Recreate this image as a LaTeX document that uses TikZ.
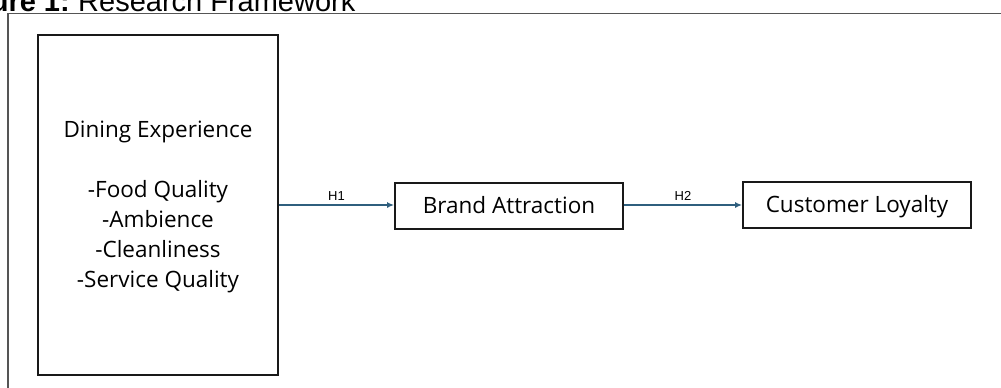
\documentclass[tikz,border=0pt]{standalone}
\usepackage{fontspec}
\setmainfont{Open Sans}
\newfontfamily\titlefont{Liberation Sans}
\usetikzlibrary{arrows.meta}
\definecolor{arrowblue}{HTML}{2F5F7E}
\definecolor{framegray}{HTML}{555555}
\begin{document}
\begin{tikzpicture}[x=1pt,y=-1pt,
  boxfont/.style={font=\fontsize{22.5}{30}\selectfont},
  boxstyle/.style={draw=black!90,line width=1.8pt,inner sep=0pt,boxfont,text height=17pt,text depth=3pt},
  conn/.style={draw=arrowblue,line width=1.6pt,-{Latex[length=7pt,width=6pt]}},
  hlabel/.style={font=\titlefont\fontsize{13}{15}\selectfont,above,inner sep=4pt}]
\useasboundingbox (0,0) rectangle (1001,388);
\clip (0,0) rectangle (1001,388);
% title (cut off at top)
\node[anchor=base east,inner sep=0pt,font=\titlefont\bfseries\fontsize{29}{32}\selectfont] (tfig) at (70,11) {Figure 1:};
\node[anchor=base west,inner sep=0pt,font=\titlefont\fontsize{29}{32}\selectfont] (ttxt) at (78,11) {Research Framework};
% outer frame
\draw[framegray,line width=1.3pt] (8,400) -- (8,13.5) -- (1010,13.5);
% boxes
\node[draw=black!90,line width=1.8pt,minimum width=240pt,minimum height=340pt] (dining) at (158,205) {};
\node[boxfont,align=center,anchor=base,inner sep=0pt] (diningtext) at (158,287) {Dining Experience\\[30pt]-Food Quality\\-Ambience\\-Cleanliness\\-Service Quality};
\node[boxstyle,minimum width=228pt,minimum height=46pt] (brand) at (509,206) {Brand Attraction};
\node[boxstyle,minimum width=228pt,minimum height=46pt] (loyal) at (857,205) {Customer Loyalty};
% connectors
\draw[conn] (dining.east |- 0,205) -- node[hlabel]{H1} (brand.west |- 0,205);
\draw[conn] (brand.east |- 0,205) -- node[hlabel]{H2} (loyal.west |- 0,205);
\end{tikzpicture}
\end{document}
